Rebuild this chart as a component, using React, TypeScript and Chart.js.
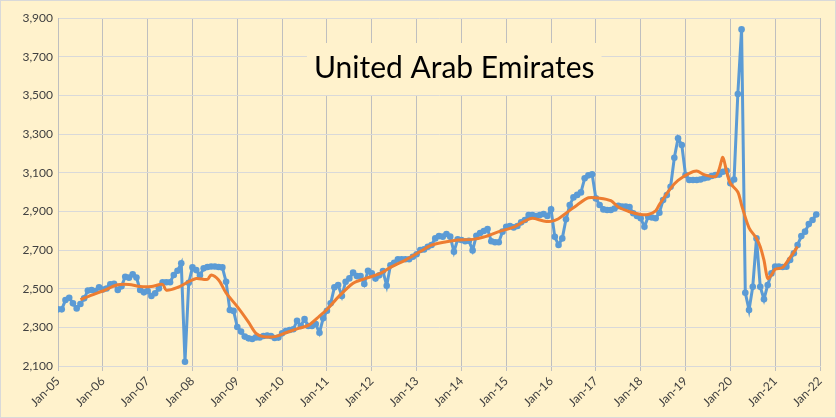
import { useEffect, useRef } from 'react';
import { Chart, registerables } from 'chart.js';

Chart.register(...registerables);

const TITLE = 'United Arab Emirates';

const tickLabels = [
  'Jan-05', 'Jan-06', 'Jan-07', 'Jan-08', 'Jan-09', 'Jan-10', 'Jan-11', 'Jan-12', 'Jan-13',
  'Jan-14', 'Jan-15', 'Jan-16', 'Jan-17', 'Jan-18', 'Jan-19', 'Jan-20', 'Jan-21', 'Jan-22',
];

// Monthly production, Jan-05 .. Dec-21
const production = [
  2393, 2393, 2441, 2453, 2424, 2398, 2421, 2450, 2490, 2493, 2488, 2507,
  2496, 2501, 2522, 2525, 2493, 2512, 2562, 2557, 2574, 2558, 2493, 2481,
  2488, 2462, 2476, 2501, 2533, 2533, 2533, 2571, 2593, 2631, 2122, 2530,
  2610, 2596, 2570, 2605, 2612, 2615, 2615, 2612, 2610, 2536, 2390, 2385,
  2302, 2278, 2252, 2243, 2240, 2248, 2248, 2255, 2258, 2255, 2245, 2247,
  2269, 2281, 2286, 2290, 2334, 2307, 2343, 2307, 2307, 2317, 2272, 2347,
  2386, 2424, 2507, 2519, 2462, 2536, 2553, 2583, 2565, 2565, 2524, 2593,
  2579, 2552, 2569, 2591, 2515, 2621, 2634, 2652, 2652, 2652, 2652, 2665,
  2678, 2700, 2703, 2717, 2726, 2760, 2772, 2769, 2783, 2769, 2691, 2755,
  2752, 2745, 2748, 2698, 2774, 2788, 2798, 2808, 2745, 2740, 2740, 2795,
  2820, 2824, 2817, 2824, 2843, 2855, 2881, 2881, 2876, 2881, 2886, 2876,
  2910, 2768, 2726, 2760, 2859, 2933, 2972, 2985, 2998, 3071, 3086, 3092,
  2967, 2933, 2910, 2907, 2907, 2915, 2928, 2925, 2925, 2922, 2890, 2876,
  2864, 2820, 2872, 2868, 2864, 2893, 2958, 2984, 3027, 3177, 3278, 3243,
  3088, 3062, 3062, 3062, 3065, 3071, 3075, 3083, 3088, 3090, 3105, 3110,
  3045, 3065, 3507, 3841, 2479, 2390, 2510, 2760, 2510, 2445, 2519, 2579,
  2614, 2614, 2612, 2614, 2648, 2683, 2726, 2772, 2795, 2834, 2855, 2884,
];

// Smoothed (orange) line: month index since Jan-05, value
const avgMonths = [
  6, 9, 12, 16, 19, 22, 25, 28, 29, 32, 35, 37, 40, 41, 43, 45, 48, 51, 53, 55, 58, 61, 64,
  67, 70, 72, 75, 79, 82, 86, 89, 93, 97, 100, 104, 107, 111, 114, 118, 122, 125, 127, 130,
  132, 134, 137, 139, 142, 145, 148, 150, 153, 156, 158, 160, 161, 164, 166, 169, 171, 173,
  176, 177, 178, 179, 180, 182, 183, 185, 187, 188, 189, 190, 191, 192, 194, 196, 198,
];
const avgValues = [
  2443, 2467, 2488, 2520, 2522, 2511, 2511, 2522, 2492, 2506, 2536, 2553, 2548, 2571, 2545,
  2478, 2407, 2327, 2269, 2252, 2252, 2272, 2292, 2310, 2358, 2392, 2456, 2528, 2551, 2576,
  2610, 2648, 2692, 2725, 2743, 2752, 2755, 2767, 2795, 2818, 2850, 2864, 2850, 2848, 2862,
  2905, 2933, 2970, 2968, 2955, 2922, 2898, 2884, 2884, 2903, 2935, 3019, 3060, 3096, 3108,
  3090, 3080, 3118, 3179, 3105, 3045, 3000, 2933, 2815, 2760, 2717, 2648, 2553, 2571, 2600,
  2610, 2662, 2717,
];

const Y_MIN = 2100;
const Y_MAX = 3900;
const Y_STEP = 200;

const BG = '#FFF2CC';
const BLUE = '#5B9BD5';
const ORANGE = '#ED7D31';

const framePlugin = {
  id: 'frame',
  beforeDraw(chart: any) {
    const { ctx, width, height } = chart;
    ctx.save();
    ctx.fillStyle = BG;
    ctx.fillRect(0, 0, width, height);
    ctx.strokeStyle = '#D9D9D9';
    ctx.lineWidth = 1;
    ctx.strokeRect(0.5, 0.5, width - 1, height - 1);
    ctx.restore();
  },
};

const titlePlugin = {
  id: 'boxTitle',
  afterDatasetsDraw(chart: any) {
    const { ctx, chartArea: a } = chart;
    const cx = a.left + (a.right - a.left) * 0.52;
    ctx.save();
    ctx.font = '30px Lato';
    const w = ctx.measureText(TITLE).width + 14;
    ctx.fillStyle = BG;
    ctx.fillRect(cx - w / 2, a.top + 25, w, 52);
    ctx.fillStyle = '#000000';
    ctx.textAlign = 'center';
    ctx.textBaseline = 'alphabetic';
    ctx.fillText(TITLE, cx, a.top + 60);
    ctx.restore();
  },
};

export default function App() {
  const ref = useRef<HTMLCanvasElement | null>(null);

  useEffect(() => {
    document.body.style.margin = '0';
    const canvas = ref.current;
    if (!canvas) return;
    const blueData = production.map((v, i) => ({ x: i, y: v }));
    const orangeData = avgMonths.map((m, i) => ({ x: m, y: avgValues[i] }));
    const font = { family: 'Lato', size: 12 };
    const chart = new Chart(canvas, {
      type: 'line',
      data: {
        datasets: [
          {
            data: orangeData,
            borderColor: ORANGE,
            backgroundColor: ORANGE,
            borderWidth: 3,
            pointRadius: 0,
            tension: 0.3,
          },
          {
            data: blueData,
            borderColor: BLUE,
            backgroundColor: BLUE,
            borderWidth: 3,
            pointRadius: 3.3,
            pointBorderWidth: 0,
            tension: 0,
          },
        ],
      },
      options: {
        animation: false,
        responsive: false,
        maintainAspectRatio: false,
        parsing: false,
        normalized: true,
        layout: { padding: { top: 18, right: 16, left: 0, bottom: 0 } },
        plugins: { legend: { display: false }, tooltip: { enabled: false }, title: { display: false } },
        scales: {
          x: {
            type: 'linear',
            min: 0,
            max: (tickLabels.length - 1) * 12,
            afterFit: (s: any) => { s.height = 52; },
            ticks: {
              stepSize: 12,
              autoSkip: false,
              maxRotation: 45,
              minRotation: 45,
              padding: 3,
              color: '#404040',
              font,
              callback: (v: any) => tickLabels[Math.round(Number(v) / 12)] ?? '',
            },
            grid: { color: '#BFBFBF', tickColor: '#BFBFBF', tickLength: 5, drawTicks: true },
            border: { color: '#D9D9D9' },
          },
          y: {
            min: Y_MIN,
            max: Y_MAX,
            afterFit: (s: any) => { s.width = 58; },
            ticks: {
              stepSize: Y_STEP,
              padding: 5,
              color: '#404040',
              font,
              callback: (v: any) => Number(v).toLocaleString('en-US'),
            },
            grid: { color: '#D9D9D9', drawTicks: false },
            border: { color: '#BFBFBF' },
          },
        },
      },
      plugins: [framePlugin, titlePlugin],
    });
    if ((document as any).fonts) {
      Promise.all([
        (document as any).fonts.load('12px Lato'),
        (document as any).fonts.load('30px Lato'),
      ]).then(() => chart.update()).catch(() => {});
    }
    return () => chart.destroy();
  }, []);

  return (
    <div style={{ width: 836, height: 418 }}>
      <canvas ref={ref} width={836} height={418} style={{ display: 'block', width: 836, height: 418 }} />
    </div>
  );
}
